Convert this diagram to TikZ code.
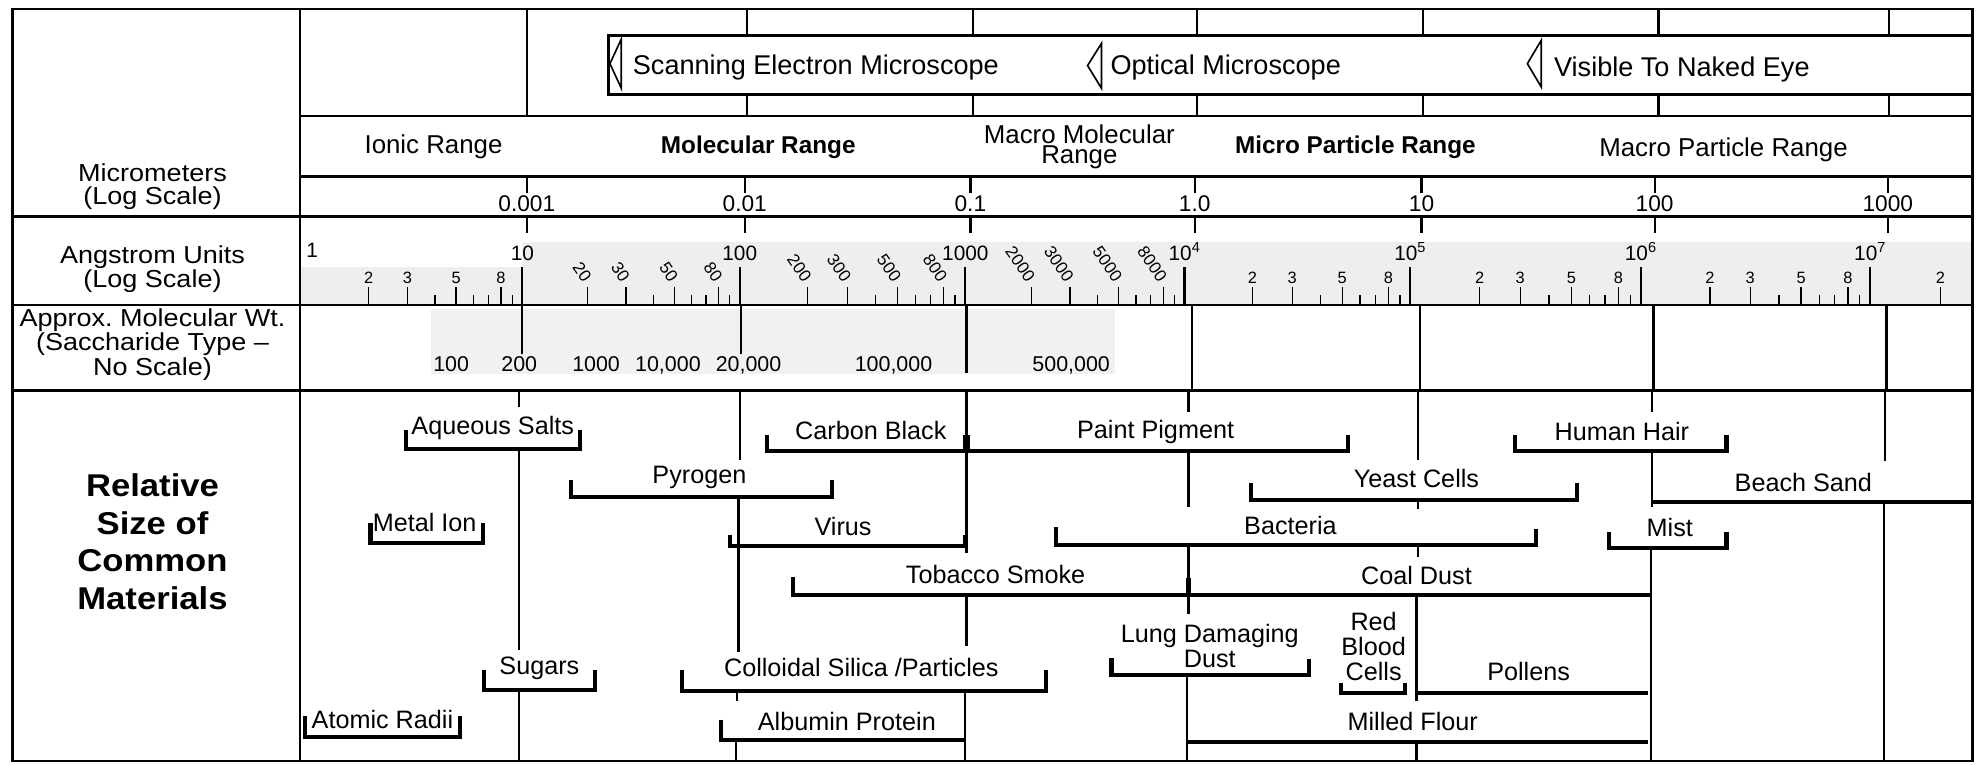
\documentclass[tikz,border=0pt]{standalone}
\usepackage{fontspec}
\setmainfont{Liberation Sans}
\newfontfamily\sidefont{Liberation Sans}[FakeStretch=1.1]
\usepackage{tikz}

\begin{document}
\begin{tikzpicture}[x=1pt, y=-1pt,
  frame/.style={line width=2pt},
  decade/.style={line width=1.8pt},
  sizebar/.style={line width=3.2pt},
  rtick/.style={line width=1.1pt},
  item/.style={inner sep=0pt, anchor=base, font=\fontsize{20}{19.7}\selectfont},
  rangelbl/.style={inner sep=0pt, anchor=base, font=\fontsize{20.5}{15.8}\selectfont},
  boldrange/.style={inner sep=0pt, anchor=base, font=\bfseries\fontsize{19.3}{19}\selectfont},
  scopelbl/.style={inner sep=0pt, anchor=base west, font=\fontsize{21.5}{22}\selectfont},
  sidelbl/.style={inner sep=0pt, anchor=north, align=center, font=\sidefont\fontsize{19.5}{18}\selectfont},
  num/.style={inner sep=0pt, anchor=base, font=\fontsize{18}{18}\selectfont},
  angnum/.style={inner sep=0pt, anchor=base, font=\fontsize{16.5}{16}\selectfont},
  angsmall/.style={inner sep=0pt, anchor=base, font=\fontsize{13}{13}\selectfont},
  angslant/.style={inner sep=0pt, anchor=east, rotate=-55, font=\fontsize{13.5}{14}\selectfont},
  mwnum/.style={inner sep=0pt, anchor=base, font=\fontsize{17}{17}\selectfont},
]
\useasboundingbox (0,0) rectangle (1568,607);

% shaded scale strips
\fill[gray!13] (238,212) -- (414.5,212) -- (414.5,192) -- (1565,192) -- (1565,242) -- (238,242) -- cycle;
\fill[gray!11] (342,245) rectangle (885,297);

% table rules
\draw[frame] (10,7) rectangle (1565,604);
\draw[frame] (238,7) -- (238,604);
\draw[frame] (238,92) -- (1565,92);
\draw[line width=2.6pt] (238,140) -- (1565,140);
\draw[frame] (10,172) -- (1565,172);
\draw[frame] (10,242) -- (1565,242);
\draw[frame] (10,310) -- (1565,310);

% left column
\node[sidelbl] (microlbl) at (121,130) {Micrometers\\(Log Scale)};
\node[sidelbl] (angstlbl) at (121,195) {Angstrom Units\\(Log Scale)};
\node[sidelbl] (mwlbl) at (121,245) {Approx.\ Molecular Wt.\\(Saccharide Type –\\No Scale)};
\node[sidelbl, font=\sidefont\bfseries\fontsize{25}{29.7}\selectfont] (relsize) at (121,376)
  {Relative\\Size of\\Common\\Materials};

% microscope strip
\draw[frame] (1565,28) -- (483,28) -- (483,75) -- (1565,75);
\draw[decade] (418,7) -- (418,92);
\foreach \x in {593,772,950,1129,1316,1499}
  \draw[decade] (\x,7) -- (\x,28) (\x,75) -- (\x,92);
\draw[line width=1.3pt] (493,31) -- (484,50.5) -- (493,70) -- cycle;
\draw[line width=1.3pt] (874,34.5) -- (863,52) -- (874,70) -- cycle;
\draw[line width=1.3pt] (1223,32) -- (1212,50.5) -- (1223,69) -- cycle;
\node[scopelbl] (sem) at (502,59.5) {Scanning Electron Microscope};
\node[scopelbl] (optical) at (881,59.5) {Optical Microscope};
\node[scopelbl] (naked) at (1233,61) {Visible To Naked Eye};

% size ranges
\node[rangelbl] (ionic) at (344,121.7) {Ionic Range};
\node[boldrange] (molecular) at (601.7,121.7) {Molecular Range};
\node[rangelbl, anchor=north, align=center] (macromol) at (856.5,99) {Macro Molecular\\Range};
\node[boldrange] (microp) at (1075.5,121.7) {Micro Particle Range};
\node[rangelbl] (macrop) at (1367.6,124) {Macro Particle Range};

% micrometer scale
\foreach \x/\t [count=\k] in {418/0.001, 591/0.01, 770/0.1, 948/1.0, 1128/10, 1313/100, 1498/1000} {
  \draw[decade] (\x,140) -- (\x,153) (\x,172) -- (\x,185);
  \node[num] (um\k) at (\x,168) {\t};
}

% angstrom ruler
\node[angnum, anchor=base west] (ang0) at (243,204) {1};
\foreach \x/\t [count=\k] in {414.5/10, 587/100, 766/1000, 940/10\textsuperscript{4},
    1119/10\textsuperscript{5}, 1302/10\textsuperscript{6}, 1484/10\textsuperscript{7}} {
  \draw[decade] (\x,212) -- (\x,242);
  \node[angnum] (ang\k) at (\x,207) {\t};
}
\foreach \a/\b in {240/414.5, 414.5/587, 587/766, 766/940, 940/1119, 1119/1302, 1302/1484} {
  \foreach \m in {2,3,5,8} \draw[rtick] ({\a+log10(\m)*(\b-\a)},242) -- ++(0,-14);
  \foreach \m in {4,6,7,9} \draw[rtick] ({\a+log10(\m)*(\b-\a)},242) -- ++(0,-8);
}
\draw[rtick] ({1484+log10(2)*185},242) -- ++(0,-14);
\foreach \a/\b [count=\k] in {240/414.5, 940/1119, 1119/1302, 1302/1484}
  \foreach \m in {2,3,5,8}
    \node[angsmall] (up\k-\m) at ({\a+log10(\m)*(\b-\a)},225) {\m};
\node[angsmall] (up5-2) at ({1484+log10(2)*185},225) {2};
\foreach \a/\b/\z [count=\k] in {414.5/587/0, 587/766/00, 766/940/000}
  \foreach \m in {2,3,5,8}
    \node[angslant] (sl\k-\m) at ({\a+log10(\m)*(\b-\a)},222) {\m\z};

% molecular weight row
\draw[decade] (414,242) -- (414,281) (588,242) -- (588,281) (767,242) -- (767,296);
\foreach \x in {946,1127,1312,1497} \draw[decade] (\x,242) -- (\x,310);
\foreach \x/\t [count=\k] in {358/100, 412/200, 473/1000, 530/{10,000}, 594/{20,000},
    709/{100,000}, 850/{500,000}}
  \node[mwnum] (mw\k) at (\x,294.5) {\t};

% decade lines through the materials
\draw[decade] (412,310) -- (412,323) (412,356) -- (412,516) (412,548) -- (412,604);
\draw[decade] (587,310) -- (587,365) (586,395) -- (586,517) (585,548) -- (585,556) (584,589) -- (584,604);
\draw[decade] (767,310) -- (767,439) (767,474) -- (767,513) (766,550) -- (766,604);
\draw[decade] (943,310) -- (943,327) (943,359) -- (943,402) (943,432) -- (943,487) (942,536) -- (942,604);
\draw[decade] (1125,310) -- (1125,365) (1125,397) -- (1125,404) (1125,434) -- (1125,442)
  (1124,473) -- (1124,556) (1124,589) -- (1124,604);
\draw[decade] (1311,310) -- (1311,327) (1311,358) -- (1311,402) (1310,435) -- (1310,604);
\draw[decade] (1496,310) -- (1496,366) (1495,398) -- (1495,604);
\draw[line width=5pt] (767,345) -- (767,358);
\draw[line width=4.5pt] (943,459) -- (943,471);

% size bars
\draw[sizebar] (322,341) |- (460,356) -- (460,341);
\draw[sizebar] (609,345) |- (1070,358) -- (1070,345);
\draw[sizebar] (1202,345) |- (1370,357.5) -- (1370,345);
\draw[sizebar] (453,381) |- (660,394) -- (660,381);
\draw[sizebar] (993,383.5) |- (1251,396.5) -- (1251,383.5);
\draw[sizebar] (1311,398) -- (1565,398);
\draw[sizebar] (294,415) |- (383,430.5) -- (383,415);
\draw[sizebar] (579,424.5) |- (766,433) -- (766,424.5);
\draw[sizebar] (838,418) |- (1219,432.5) -- (1219,420);
\draw[sizebar] (1277,422) |- (1370,435) -- (1370,422);
\draw[sizebar] (629,458) |- (1310,472);
\draw[sizebar] (384,532) |- (472,547.5) -- (472,532);
\draw[sizebar] (541,532) |- (830,548) -- (830,532);
\draw[sizebar] (882,522) |- (1039,535.5) -- (1039,523);
\draw[sizebar] (1064,542) |- (1115,550) -- (1115,542);
\draw[sizebar] (1124,550) -- (1308,550);
\draw[sizebar] (242,568) |- (365,585) -- (365,568);
\draw[sizebar] (572,571) |- (765,587.5);
\draw[sizebar] (943,588.5) -- (1308,588.5);

% material names
\node[item] (salts) at (391,345) {Aqueous Salts};
\node[item] (carbon) at (691,349) {Carbon Black};
\node[item] (paint) at (917,348) {Paint Pigment};
\node[item] (hair) at (1287,349.5) {Human Hair};
\node[item] (pyrogen) at (555,384) {Pyrogen};
\node[item] (yeast) at (1124,387) {Yeast Cells};
\node[item] (sand) at (1431,390) {Beach Sand};
\node[item] (metalion) at (337,422) {Metal Ion};
\node[item] (virus) at (669,425) {Virus};
\node[item] (bacteria) at (1024,424.5) {Bacteria};
\node[item] (mist) at (1325,426) {Mist};
\node[item] (tobacco) at (790,463) {Tobacco Smoke};
\node[item] (coal) at (1124,464) {Coal Dust};
\node[item, anchor=north, align=center] (lung) at (960,495.5) {Lung Damaging\\Dust};
\node[item, anchor=north, align=center] (rbc) at (1090,485.7) {Red\\Blood\\Cells};
\node[item] (pollens) at (1213,539.6) {Pollens};
\node[item] (sugars) at (428,535.6) {Sugars};
\node[item] (silica) at (683.5,537) {Colloidal Silica /Particles};
\node[item] (radii) at (303.5,578) {Atomic Radii};
\node[item] (albumin) at (672,579.5) {Albumin Protein};
\node[item] (flour) at (1121,580) {Milled Flour};
\end{tikzpicture}
\end{document}
